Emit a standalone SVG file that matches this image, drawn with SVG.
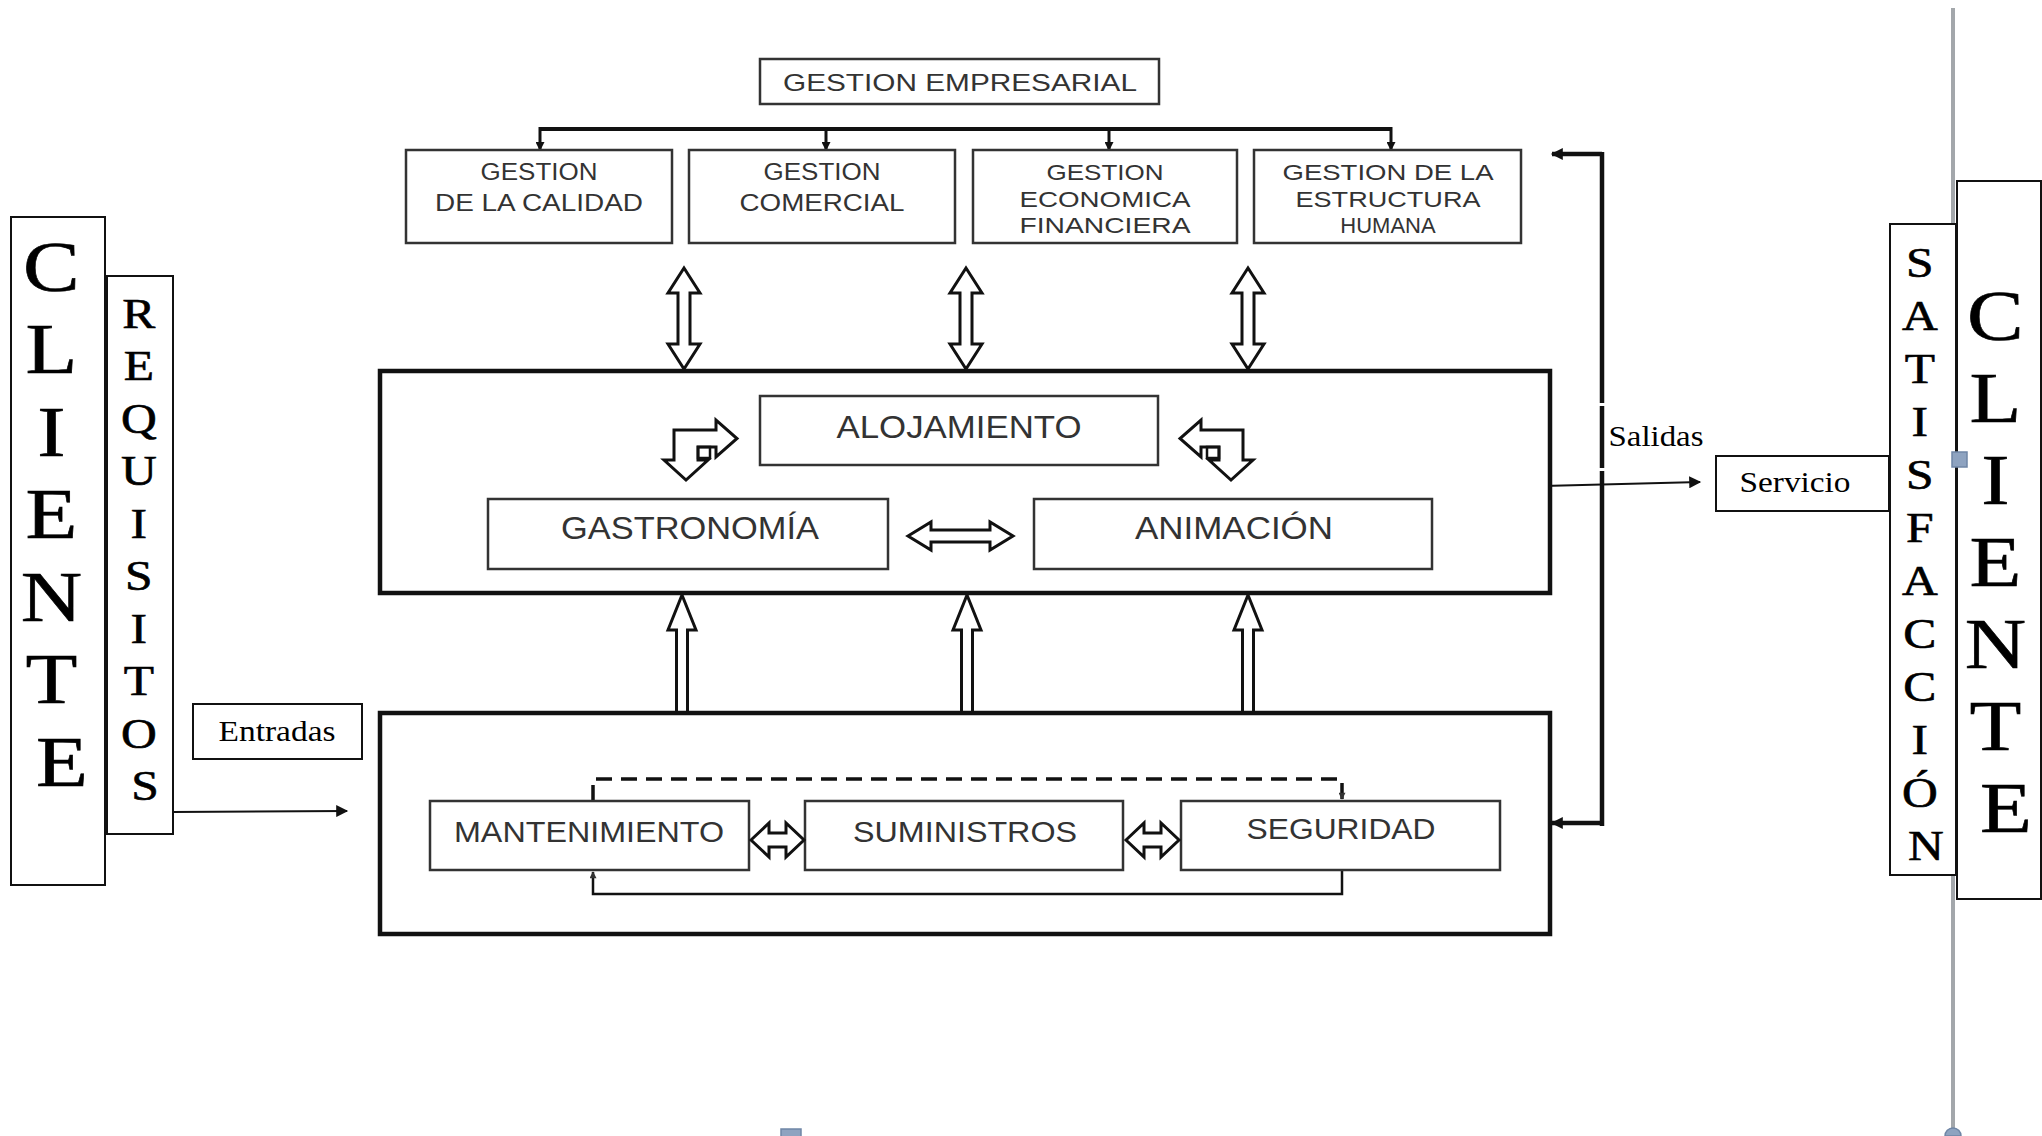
<svg xmlns="http://www.w3.org/2000/svg" width="2042" height="1136" viewBox="0 0 2042 1136">
  <style>
    .box { fill: #fff; stroke: #333; stroke-width: 2.5; }
    .big { fill: #fff; stroke: #111; stroke-width: 4.5; }
    .thin { fill: #fff; stroke: #111; stroke-width: 2; }
    .lbl { font-family: "Liberation Sans", Arial, sans-serif; fill: #333; text-anchor: middle; }
    .ser { font-family: "Liberation Serif", "Times New Roman", serif; fill: #000; text-anchor: middle; }
    .tall { stroke: #000; stroke-width: 0.6; }
    .blk { fill: #fff; stroke: #111; stroke-width: 3; stroke-linejoin: miter; }
    .ln { fill: none; stroke: #111; }
  </style>
  <defs>
    <marker id="tip" viewBox="0 0 10 10" refX="9" refY="5" markerWidth="11" markerHeight="9" orient="auto" markerUnits="userSpaceOnUse">
      <path d="M0,0 L10,5 L0,10 z" fill="#111"/>
    </marker>
    <marker id="tipBig" viewBox="0 0 10 10" refX="9" refY="5" markerWidth="16" markerHeight="12" orient="auto" markerUnits="userSpaceOnUse">
      <path d="M0,0 L10,5 L0,10 z" fill="#111"/>
    </marker>
    <marker id="tipSmall" viewBox="0 0 10 10" refX="9" refY="5" markerWidth="8" markerHeight="7" orient="auto" markerUnits="userSpaceOnUse">
      <path d="M0,0 L10,5 L0,10 z" fill="#333"/>
    </marker>
  </defs>

  <rect width="2042" height="1136" fill="#fff"/>

  <!-- window edge on the right -->
  <line x1="1953" y1="8" x2="1953" y2="1136" stroke="#a3a7ab" stroke-width="4"/>

  <!-- connectors -->
  <g id="connectors">
    <!-- management bus -->
    <path class="ln" stroke-width="4" d="M540,129 H1391"/>
    <path class="ln" stroke-width="3" d="M540,127 V150" marker-end="url(#tip)"/>
    <path class="ln" stroke-width="3" d="M826,129 V150" marker-end="url(#tip)"/>
    <path class="ln" stroke-width="3" d="M1109,129 V150" marker-end="url(#tip)"/>
    <path class="ln" stroke-width="3" d="M1391,127 V150" marker-end="url(#tip)"/>

    <!-- two-way block arrows: management <-> operations -->
    <polygon class="blk" points="684,268 700,293 690,293 690,344 700,344 684,369 668,344 678,344 678,293 668,293"/>
    <polygon class="blk" points="966,268 982,293 972,293 972,344 982,344 966,369 950,344 960,344 960,293 950,293"/>
    <polygon class="blk" points="1248,268 1264,293 1254,293 1254,344 1264,344 1248,369 1232,344 1242,344 1242,293 1232,293"/>

    <!-- support -> operations block arrows -->
    <polygon class="blk" points="682,595 696,630 687.5,630 687.5,713 676.5,713 676.5,630 668,630"/>
    <polygon class="blk" points="967,595 981,630 972.5,630 972.5,713 961.5,713 961.5,630 953,630"/>
    <polygon class="blk" points="1248,595 1262,630 1253.5,630 1253.5,713 1242.5,713 1242.5,630 1234,630"/>

    <!-- feedback loop on the right -->
    <path class="ln" stroke-width="4.5" d="M1602,152 V826"/>
    <path class="ln" stroke-width="4.5" d="M1602,154 H1552" marker-end="url(#tipBig)"/>
    <path class="ln" stroke-width="4.5" d="M1602,823 H1552" marker-end="url(#tipBig)"/>
    <rect x="1597" y="403" width="10" height="3" fill="#fff"/>
    <rect x="1597" y="468" width="10" height="3" fill="#fff"/>

    <!-- inputs / outputs -->
    <path class="ln" stroke="#222" stroke-width="2" d="M172,812 L347,811" marker-end="url(#tipBig)"/>
    <path class="ln" stroke="#222" stroke-width="2" d="M1543,486 L1700,482" marker-end="url(#tipBig)"/>
  </g>

  <!-- top management -->
  <g id="gestion-empresarial">
    <rect class="box" x="760" y="59" width="399" height="45"/>
    <text class="lbl" x="960" y="91" font-size="24" textLength="354" lengthAdjust="spacingAndGlyphs">GESTION EMPRESARIAL</text>
  </g>
  <g id="gestion-calidad">
    <rect class="box" x="406" y="150" width="266" height="93"/>
    <text class="lbl" x="539" y="180" font-size="23" textLength="117" lengthAdjust="spacingAndGlyphs">GESTION</text>
    <text class="lbl" x="539" y="211" font-size="23" textLength="208" lengthAdjust="spacingAndGlyphs">DE LA CALIDAD</text>
  </g>
  <g id="gestion-comercial">
    <rect class="box" x="689" y="150" width="266" height="93"/>
    <text class="lbl" x="822" y="180" font-size="23" textLength="117" lengthAdjust="spacingAndGlyphs">GESTION</text>
    <text class="lbl" x="822" y="211" font-size="23" textLength="165" lengthAdjust="spacingAndGlyphs">COMERCIAL</text>
  </g>
  <g id="gestion-economica">
    <rect class="box" x="973" y="150" width="264" height="93"/>
    <text class="lbl" x="1105" y="180" font-size="22" textLength="117" lengthAdjust="spacingAndGlyphs">GESTION</text>
    <text class="lbl" x="1105" y="207" font-size="22" textLength="171" lengthAdjust="spacingAndGlyphs">ECONOMICA</text>
    <text class="lbl" x="1105" y="233" font-size="22" textLength="171" lengthAdjust="spacingAndGlyphs">FINANCIERA</text>
  </g>
  <g id="gestion-estructura">
    <rect class="box" x="1254" y="150" width="267" height="93"/>
    <text class="lbl" x="1388" y="180" font-size="22" textLength="211" lengthAdjust="spacingAndGlyphs">GESTION DE LA</text>
    <text class="lbl" x="1388" y="207" font-size="22" textLength="185" lengthAdjust="spacingAndGlyphs">ESTRUCTURA</text>
    <text class="lbl" x="1388" y="233" font-size="22">HUMANA</text>
  </g>

  <!-- operations -->
  <g id="operaciones">
    <rect class="big" x="380" y="371" width="1170" height="222"/>
  </g>
  <g id="alojamiento">
    <rect class="box" x="760" y="396" width="398" height="69"/>
    <text class="lbl" x="959" y="438" font-size="31" textLength="245" lengthAdjust="spacingAndGlyphs">ALOJAMIENTO</text>
  </g>
  <g id="gastronomia">
    <rect class="box" x="488" y="499" width="400" height="70"/>
    <text class="lbl" x="690" y="539" font-size="31" textLength="258" lengthAdjust="spacingAndGlyphs">GASTRONOMÍA</text>
  </g>
  <g id="animacion">
    <rect class="box" x="1034" y="499" width="398" height="70"/>
    <text class="lbl" x="1234" y="539" font-size="31" textLength="198" lengthAdjust="spacingAndGlyphs">ANIMACIÓN</text>
  </g>
  <g id="operaciones-flechas">
    <polygon class="blk" points="908,536 931,522 931,530 990,530 990,522 1013,536 990,550 990,542 931,542 931,550"/>
    <!-- bent two-way arrows -->
    <polygon class="blk" points="674,430 716,430 716,420 737,438.5 716,457 716,447 698,447 698,460 708,460 686,480 664,460 674,460"/>
    <rect x="698" y="447" width="12" height="11" fill="none" stroke="#111" stroke-width="2.5"/>
    <g transform="translate(1917,0) scale(-1,1)">
      <polygon class="blk" points="674,430 716,430 716,420 737,438.5 716,457 716,447 698,447 698,460 708,460 686,480 664,460 674,460"/>
      <rect x="698" y="447" width="12" height="11" fill="none" stroke="#111" stroke-width="2.5"/>
    </g>
  </g>

  <!-- support processes -->
  <g id="soporte">
    <rect class="big" x="380" y="713" width="1170" height="221"/>
  </g>
  <g id="soporte-enlaces">
    <path class="ln" stroke="#222" stroke-width="3.5" stroke-dasharray="16 9" d="M593,801 V779 H1342 V799" marker-end="url(#tipSmall)"/>
    <path class="ln" stroke="#333" stroke-width="2.5" d="M1342,870 V894 H593 V872" marker-end="url(#tipSmall)"/>
  </g>
  <g id="mantenimiento">
    <rect class="box" x="430" y="801" width="319" height="69"/>
    <text class="lbl" x="589" y="842" font-size="29" textLength="270" lengthAdjust="spacingAndGlyphs">MANTENIMIENTO</text>
  </g>
  <g id="suministros">
    <rect class="box" x="805" y="801" width="318" height="69"/>
    <text class="lbl" x="965" y="842" font-size="29" textLength="224" lengthAdjust="spacingAndGlyphs">SUMINISTROS</text>
  </g>
  <g id="seguridad">
    <rect class="box" x="1181" y="801" width="319" height="69"/>
    <text class="lbl" x="1341" y="839" font-size="29" textLength="189" lengthAdjust="spacingAndGlyphs">SEGURIDAD</text>
  </g>
  <g id="soporte-flechas">
    <polygon class="blk" points="751,840 769,823 769,833 786,833 786,823 804,840 786,857 786,847 769,847 769,857"/>
    <polygon class="blk" points="1126,840 1144,823 1144,833 1161,833 1161,823 1179,840 1161,857 1161,847 1144,847 1144,857"/>
  </g>

  <!-- customer side (input) -->
  <g id="cliente-entrada">
    <rect class="thin" x="11" y="217" width="94" height="668"/>
    <text class="ser tall" font-size="72" transform="matrix(1.18,0,0,1,-11.16,0)">
      <tspan x="62" y="291">C</tspan>
      <tspan x="62" y="373">L</tspan>
      <tspan x="62" y="456">I</tspan>
      <tspan x="62" y="538">E</tspan>
      <tspan x="62" y="621">N</tspan>
      <tspan x="62" y="703">T</tspan>
      <tspan x="62" y="786">E</tspan>
    </text>
  </g>
  <g id="requisitos">
    <rect class="thin" x="107" y="276" width="66" height="558"/>
    <text class="ser tall" font-size="42" transform="matrix(1.18,0,0,1,-26.1,0)">
      <tspan x="145" y="328">R</tspan>
      <tspan x="145" y="380">E</tspan>
      <tspan x="145" y="433">Q</tspan>
      <tspan x="145" y="485">U</tspan>
      <tspan x="145" y="538">I</tspan>
      <tspan x="145" y="590">S</tspan>
      <tspan x="145" y="643">I</tspan>
      <tspan x="145" y="695">T</tspan>
      <tspan x="145" y="748">O</tspan>
      <tspan x="145" y="800">S</tspan>
    </text>
  </g>
  <g id="entradas">
    <rect class="thin" x="193" y="704" width="169" height="55"/>
    <text class="ser" x="277" y="741" font-size="30" textLength="117" lengthAdjust="spacingAndGlyphs">Entradas</text>
  </g>

  <!-- customer side (output) -->
  <g id="salidas">
    <text class="ser" x="1656" y="446" font-size="29" textLength="95" lengthAdjust="spacingAndGlyphs">Salidas</text>
  </g>
  <g id="servicio">
    <rect class="thin" x="1716" y="456" width="173" height="55"/>
    <text class="ser" x="1795" y="492" font-size="30" textLength="111" lengthAdjust="spacingAndGlyphs">Servicio</text>
  </g>
  <g id="satisfaccion">
    <rect class="thin" x="1890" y="224" width="66" height="651"/>
    <text class="ser tall" font-size="42" transform="matrix(1.18,0,0,1,-346.68,0)">
      <tspan x="1926" y="277">S</tspan>
      <tspan x="1926" y="330">A</tspan>
      <tspan x="1926" y="383">T</tspan>
      <tspan x="1926" y="436">I</tspan>
      <tspan x="1926" y="489">S</tspan>
      <tspan x="1926" y="542">F</tspan>
      <tspan x="1926" y="595">A</tspan>
      <tspan x="1926" y="648">C</tspan>
      <tspan x="1926" y="701">C</tspan>
      <tspan x="1926" y="754">I</tspan>
      <tspan x="1926" y="807">Ó</tspan>
      <tspan x="1926" y="860">N</tspan>
    </text>
  </g>
  <g id="cliente-salida">
    <rect class="thin" x="1957" y="181" width="84" height="718"/>
    <text class="ser tall" font-size="72" transform="matrix(1.18,0,0,1,-361.08,0)">
      <tspan x="2006" y="340">C</tspan>
      <tspan x="2006" y="422">L</tspan>
      <tspan x="2006" y="504">I</tspan>
      <tspan x="2006" y="586">E</tspan>
      <tspan x="2006" y="668">N</tspan>
      <tspan x="2006" y="750">T</tspan>
      <tspan x="2006" y="832">E</tspan>
    </text>
  </g>

  <!-- selection handles -->
  <rect x="1952" y="452" width="15" height="15" fill="#8ea3c0" stroke="#6f86a6" stroke-width="1.5"/>
  <rect x="781" y="1129" width="20" height="10" fill="#8ea3c0" stroke="#6f86a6" stroke-width="1.5"/>
  <path d="M1945,1136 A8,8 0 0 1 1961,1136 z" fill="#8ea3c0" stroke="#6f86a6" stroke-width="1.5"/>
</svg>
